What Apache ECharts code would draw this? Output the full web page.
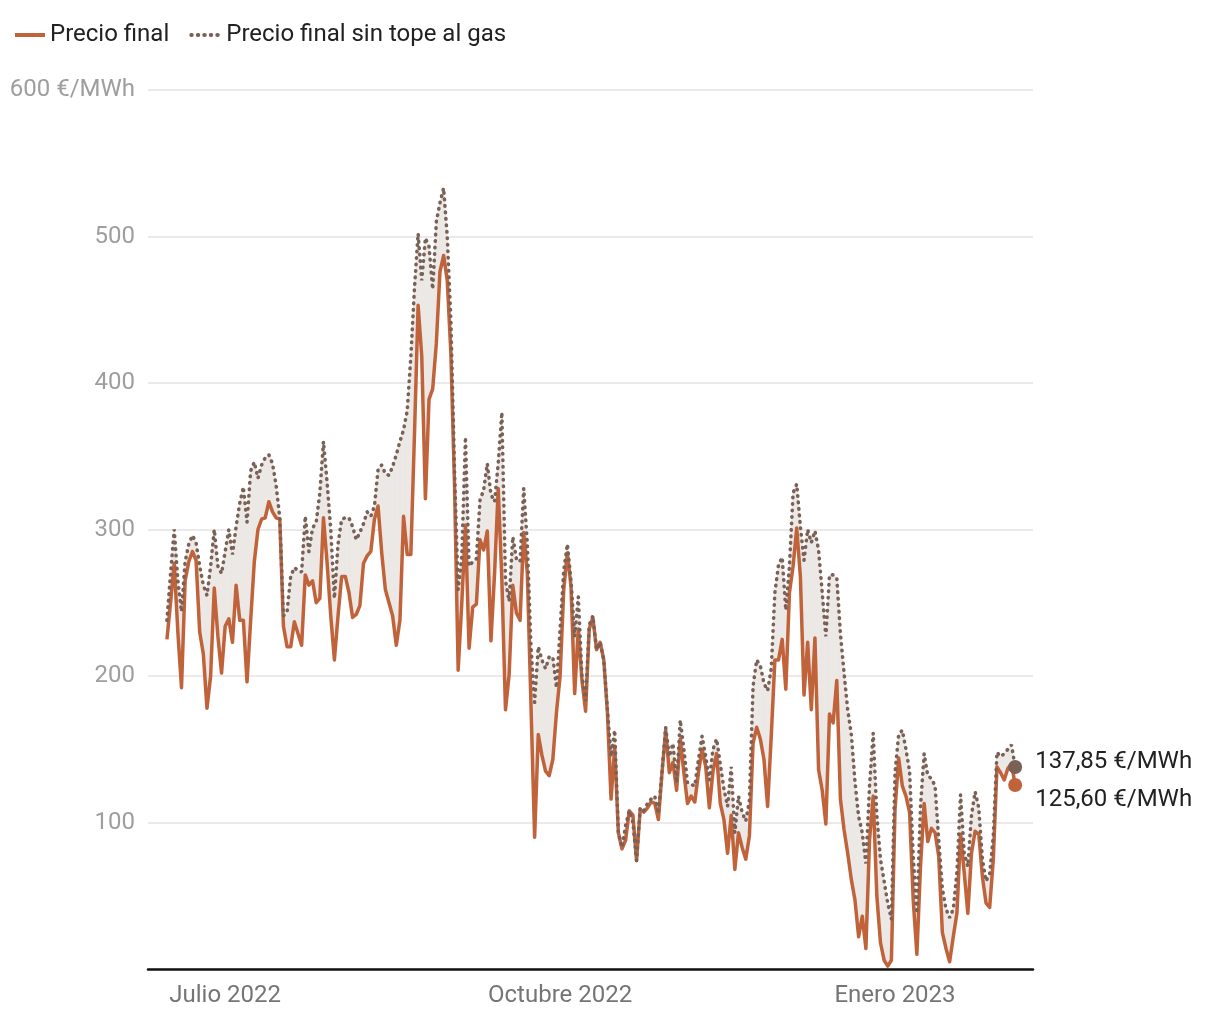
<!DOCTYPE html>
<html><head><meta charset="utf-8">
<script src="https://cdn.jsdelivr.net/npm/echarts@6/dist/echarts.min.js"></script>
<style>html,body{margin:0;padding:0;background:#fff}#c{width:1220px;height:1020px}</style>
</head><body><div id="c"></div>
<script>
// First day of the daily series
const startDate = '2022-06-15';

// Precio final (€/MWh), daily
const finalPrice = [
225,250,277,230,192,265,278,285,279,230,215,178,200,260,227,202,234,239,223,262,
238,238,196,238,278,300,307,308,319,312,308,307,234,220,220,237,229,221,269,262,
265,250,253,308,277,241,211,241,268,268,257,240,242,248,277,282,285,307,316,284,
259,250,241,221,238,309,283,283,365,453,418,321,389,396,427,476,487,470,420,330,
204,250,303,219,247,249,293,286,299,224,270,328,266,177,201,262,243,238,298,270,
180,90,160,146,135,132,143,175,200,259,284,261,188,232,197,176,232,240,218,223,
211,175,116,152,93,82,88,108,105,74,109,107,110,114,113,102,134,163,134,141,
122,157,134,113,118,114,134,150,138,110,135,147,113,102,79,105,68,93,83,75,
91,154,165,157,143,111,159,211,211,225,191,257,275,301,268,187,223,177,226,136,
122,99,174,168,197,116,95,79,61,47,22,36,14,88,118,50,18,6,2,6,
109,144,125,118,107,47,10,70,113,87,96,93,77,25,14,5,22,38,92,66,
38,79,94,92,63,45,42,75,138,134,129,137,140,125.60
];

// Precio final sin tope al gas (€/MWh), daily
const noCapPrice = [
238,270,300,265,244,278,290,296,291,275,262,255,275,300,275,270,285,300,283,302,
318,329,305,340,346,335,344,349,351,345,330,308,241,244,268,274,272,271,309,285,
301,305,325,360,332,300,253,290,307,308,308,302,293,298,304,312,309,316,341,344,
338,337,343,351,360,368,381,418,465,502,470,499,493,464,510,523,533,500,443,340,
259,282,363,275,278,280,320,327,345,324,319,345,380,265,251,295,280,278,328,290,
220,182,220,211,205,213,213,192,232,272,290,265,227,254,200,183,235,241,218,223,
211,177,145,163,93,83,98,108,100,74,110,108,113,116,118,106,135,165,145,154,
127,170,150,127,126,125,143,159,145,129,150,157,140,123,111,138,93,118,107,101,
115,193,211,207,195,190,205,257,276,281,245,275,325,331,302,279,300,291,299,286,
257,227,269,269,267,229,202,177,160,128,104,93,72,125,161,105,75,60,45,34,
134,160,163,150,135,77,38,111,147,132,130,125,88,55,41,35,41,66,119,79,
70,105,121,110,75,60,65,91,148,145,147,150,153,137.85
];

// Axis ticks
const xTickDates = ['2022-07-01', '2022-10-01', '2023-01-01'];
const xTickLabels = ['Julio 2022', 'Octubre 2022', 'Enero 2023'];
const yTicks = [0, 100, 200, 300, 400, 500, 600];
const yUnit = ' €/MWh';

const DAY = 86400000;
const t0 = Date.parse(startDate + 'T00:00:00Z');
// x position = day number counted from startDate
const days = finalPrice.map((_, i) => i);
const xTicks = xTickDates.map(d => Math.round((Date.parse(d + 'T00:00:00Z') - t0) / DAY));
const fmt = v => v.toFixed(2).replace('.', ',') + yUnit;

const ORANGE = '#c1633a';
const BROWN = '#7a6157';
const BAND = '#ece8e5';
const FONT = 'Roboto';
const DOTS = [0.5, 6];

const last = finalPrice.length - 1;

const chart = echarts.init(document.getElementById('c'), null, {renderer: 'canvas'});
chart.setOption({
  animation: false,
  backgroundColor: '#ffffff',
  textStyle: {fontFamily: FONT},
  legend: {
    left: 8, top: 18,
    itemWidth: 30, itemHeight: 14, itemGap: 20,
    itemStyle: {opacity: 0},
    textStyle: {fontSize: 24, color: '#212121', fontFamily: FONT},
    data: [
      {name: 'Precio final', lineStyle: {width: 4, color: ORANGE}},
      {name: 'Precio final sin tope al gas', lineStyle: {width: 4, color: BROWN, type: DOTS, cap: 'round'}}
    ]
  },
  grid: {left: 148, right: 187, top: 90, bottom: 51, containLabel: false},
  xAxis: {
    type: 'value',
    min: -5.2,
    max: 237.9,
    axisLine: {show: true, onZero: false, lineStyle: {color: '#111', width: 2.5}},
    axisTick: {show: false},
    splitLine: {show: false},
    axisLabel: {
      customValues: xTicks,
      color: '#757575', fontSize: 24, fontFamily: FONT, margin: 15,
      formatter: v => {
        const k = xTicks.indexOf(Math.round(v));
        return k >= 0 ? xTickLabels[k] : '';
      }
    }
  },
  yAxis: {
    type: 'value',
    min: yTicks[0], max: yTicks[yTicks.length - 1], interval: 100,
    axisLine: {show: false},
    axisTick: {show: false},
    splitLine: {lineStyle: {color: '#e3e3e3', width: 1.5}},
    axisLabel: {
      color: '#9e9e9e', fontSize: 24, fontFamily: FONT, margin: 13,
      formatter: v => v === yTicks[yTicks.length - 1] ? v + yUnit : (v === 0 ? '' : String(v))
    }
  },
  series: [
    {
      name: 'band', type: 'custom', silent: true, clip: true,
      data: days.map(i => [i, noCapPrice[i], finalPrice[i]]),
      encode: {x: 0, y: [1, 2]},
      renderItem: (params, api) => {
        const i = api.value(0);
        if (i >= last) return null;
        const pts = [
          api.coord([i, noCapPrice[i]]),
          api.coord([i + 1, noCapPrice[i + 1]]),
          api.coord([i + 1, finalPrice[i + 1]]),
          api.coord([i, finalPrice[i]])
        ];
        return {
          type: 'polygon',
          shape: {points: pts},
          style: {fill: BAND, stroke: BAND, lineWidth: 0.8}
        };
      },
      z: 1
    },
    {
      name: 'Precio final', type: 'line',
      data: days.map(i => [i, finalPrice[i]]),
      symbol: 'none',
      lineStyle: {color: ORANGE, width: 3.5, join: 'round'},
      itemStyle: {color: ORANGE},
      endLabel: {
        show: true, formatter: p => fmt(p.value[1]),
        color: '#212121', fontSize: 24, fontFamily: FONT, distance: 20, offset: [0, 15]
      },
      z: 3
    },
    {
      name: 'Precio final sin tope al gas', type: 'line',
      data: days.map(i => [i, noCapPrice[i]]),
      symbol: 'none',
      lineStyle: {color: BROWN, width: 3.6, type: DOTS, cap: 'round'},
      itemStyle: {color: BROWN},
      endLabel: {
        show: true, formatter: p => fmt(p.value[1]),
        color: '#212121', fontSize: 24, fontFamily: FONT, distance: 20, offset: [0, -5]
      },
      z: 4
    },
    {
      name: 'endDots', type: 'scatter', silent: true,
      data: [
        {value: [days[last], finalPrice[last]], itemStyle: {color: ORANGE, opacity: 1}},
        {value: [days[last], noCapPrice[last]], itemStyle: {color: BROWN, opacity: 1}}
      ],
      symbolSize: 14, z: 5
    }
  ]
});
</script>
</body></html>
